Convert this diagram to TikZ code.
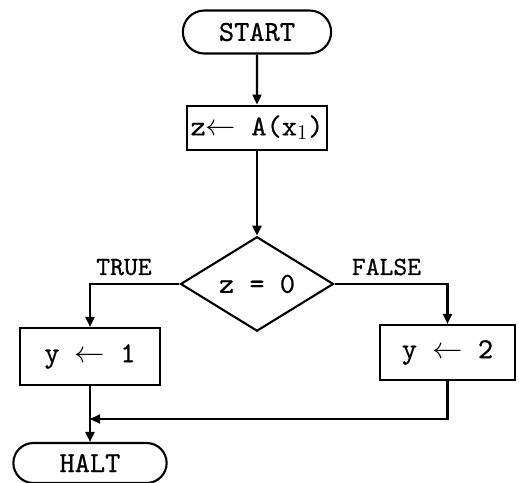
\documentclass[tikz,border=0pt]{standalone}
\usepackage{fontspec}
\newfontfamily\twfont{lmmono10-regular.otf}[FakeBold=0.6]
\usetikzlibrary{arrows.meta, positioning, shapes.geometric, shapes.misc}
\tikzset{
  term/.style={draw, rounded rectangle, minimum width=3.2cm, minimum height=0.86cm},
  box/.style={draw, minimum height=0.88cm, inner sep=2pt},
  test/.style={draw, diamond, minimum width=3.06cm, minimum height=1.86cm, inner sep=0pt},
  lbl/.style={font=\fontsize{15}{17}\selectfont\twfont},
  arr/.style={-{Triangle[length=2mm, width=1.8mm]}},
}
\begin{document}
\begin{tikzpicture}[node distance=1cm, line width=1.2pt, font=\fontsize{16.5}{18}\selectfont\twfont]
  \useasboundingbox (0,0) rectangle (10.38,-9.66);
  \node[term] (st) at (5.14,-0.64) {START};
  \node[box, minimum width=2.76cm, below=of st] (asg) {z$\leftarrow$ A(x$_1$)};
  \node[test, below=1.7cm of asg] (tst) {z = 0};
  \node[box, minimum width=2.8cm, minimum height=1.14cm] (y1) at (1.8,-7.13) {y $\leftarrow$ 1};
  \node[box, minimum width=2.7cm, minimum height=1.1cm] (y2) at (8.95,-7.05) {y $\leftarrow$ 2};
  \node[term, minimum width=3.3cm, minimum height=0.8cm] (halt) at (1.8,-9.26) {HALT};
  \coordinate (jn) at (1.8,-8.38);
  \draw[arr] (st) -- (asg);
  \draw[arr] (asg) -- (tst);
  \draw[arr] (tst.west) -| node[lbl, pos=0.31, above=1pt] {TRUE} (y1.north);
  \draw[arr] (tst.east) -| node[lbl, pos=0.23, above=1pt] {FALSE} (y2.north);
  \draw[arr] (y2.south) |- (jn);
  \draw[arr] (y1.south) -- (halt.north);
\end{tikzpicture}
\end{document}
